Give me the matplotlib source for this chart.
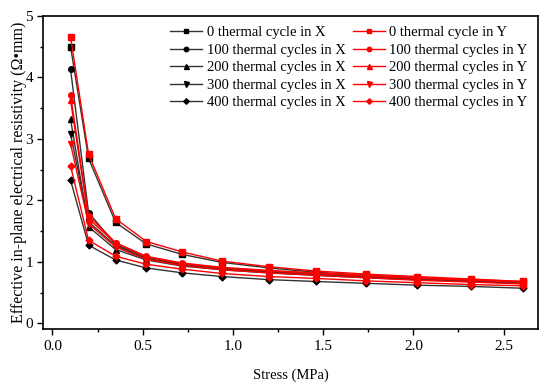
import numpy as np
import matplotlib
matplotlib.use('Agg')
import matplotlib.pyplot as plt
from matplotlib.ticker import MultipleLocator

plt.rcParams['font.family'] = ['Liberation Serif', 'DejaVu Serif']

# Stress (MPa)
stress = [0.1, 0.2, 0.35, 0.52, 0.72, 0.94, 1.2, 1.46, 1.74, 2.02, 2.32, 2.61]

# Effective in-plane electrical resistivity, X direction
x0 = [4.50, 2.68, 1.64, 1.29, 1.12, 0.99, 0.90, 0.83, 0.78, 0.74, 0.70, 0.67]
x100 = [4.13, 1.80, 1.28, 1.06, 0.96, 0.89, 0.84, 0.80, 0.76, 0.72, 0.69, 0.66]
x200 = [3.32, 1.57, 1.20, 1.03, 0.93, 0.87, 0.82, 0.78, 0.74, 0.71, 0.68, 0.65]
x300 = [3.08, 1.65, 1.26, 1.05, 0.95, 0.88, 0.83, 0.79, 0.75, 0.71, 0.68, 0.65]
x400 = [2.33, 1.27, 1.03, 0.90, 0.82, 0.76, 0.71, 0.68, 0.65, 0.62, 0.60, 0.57]

# Y direction
y0 = [4.66, 2.75, 1.70, 1.33, 1.16, 1.01, 0.92, 0.85, 0.80, 0.76, 0.72, 0.68]
y100 = [3.71, 1.75, 1.31, 1.09, 0.98, 0.91, 0.86, 0.82, 0.78, 0.74, 0.71, 0.68]
y200 = [3.63, 1.70, 1.30, 1.08, 0.97, 0.90, 0.85, 0.81, 0.77, 0.73, 0.70, 0.67]
y300 = [2.92, 1.62, 1.24, 1.04, 0.94, 0.87, 0.82, 0.78, 0.74, 0.70, 0.67, 0.64]
y400 = [2.56, 1.35, 1.09, 0.96, 0.88, 0.81, 0.76, 0.73, 0.69, 0.66, 0.63, 0.61]

x_series = [x0, x100, x200, x300, x400]
y_series = [y0, y100, y200, y300, y400]
x_labels = ['0 thermal cycle in X', '100 thermal cycles in X', '200 thermal cycles in X',
            '300 thermal cycles in X', '400 thermal cycles in X']
y_labels = ['0 thermal cycle in Y', '100 thermal cycles in Y', '200 thermal cycles in Y',
            '300 thermal cycles in Y', '400 thermal cycles in Y']
markers = ['s', 'o', '^', 'v', 'D']
msizes = [4, 4, 4.5, 4.5, 3.5]

fig = plt.figure(figsize=(5.5, 3.84), dpi=100)
ax = fig.add_axes([0.079, 0.142, 0.899, 0.817])

for vals, lab, m, ms in zip(x_series, x_labels, markers, msizes):
    ax.plot(stress, vals, color='#333333', lw=1.0, marker=m, ms=ms, mfc='black', mec='black', label=lab)
for vals, lab, m, ms in zip(y_series, y_labels, markers, msizes):
    ax.plot(stress, vals, color='#ff0000', lw=1.0, marker=m, ms=ms, mfc='#ff0000', mec='#ff0000', label=lab)

ax.set_xlim(-0.05, 2.69)
ax.set_ylim(-0.1, 5)
ax.xaxis.set_major_locator(MultipleLocator(0.5))
ax.xaxis.set_minor_locator(MultipleLocator(0.25))
ax.yaxis.set_major_locator(MultipleLocator(1))
ax.yaxis.set_minor_locator(MultipleLocator(0.5))
ax.xaxis.set_major_formatter(plt.FormatStrFormatter('%.1f'))
ax.tick_params(which='major', direction='out', length=4, width=1, labelsize=11, top=False, right=False)
ax.tick_params(which='minor', direction='out', length=2, width=1, top=False, right=False)
for s in ax.spines.values():
    s.set_linewidth(1.2)

ax.set_xlabel('Stress (MPa)', fontsize=10.5, labelpad=11)
ax.set_ylabel('Effective in-plane electrical resistivity (Ω•mm)', fontsize=11.5, labelpad=-1)

ax.legend(ncol=2, loc='upper right', frameon=False, fontsize=10.5, handlelength=2.2,
          labelspacing=0.3, columnspacing=0.5, handletextpad=0.3, markerscale=0.8,
          bbox_to_anchor=(1.0, 1.0), borderaxespad=0.3)

fig.savefig('out.png', dpi=100)
